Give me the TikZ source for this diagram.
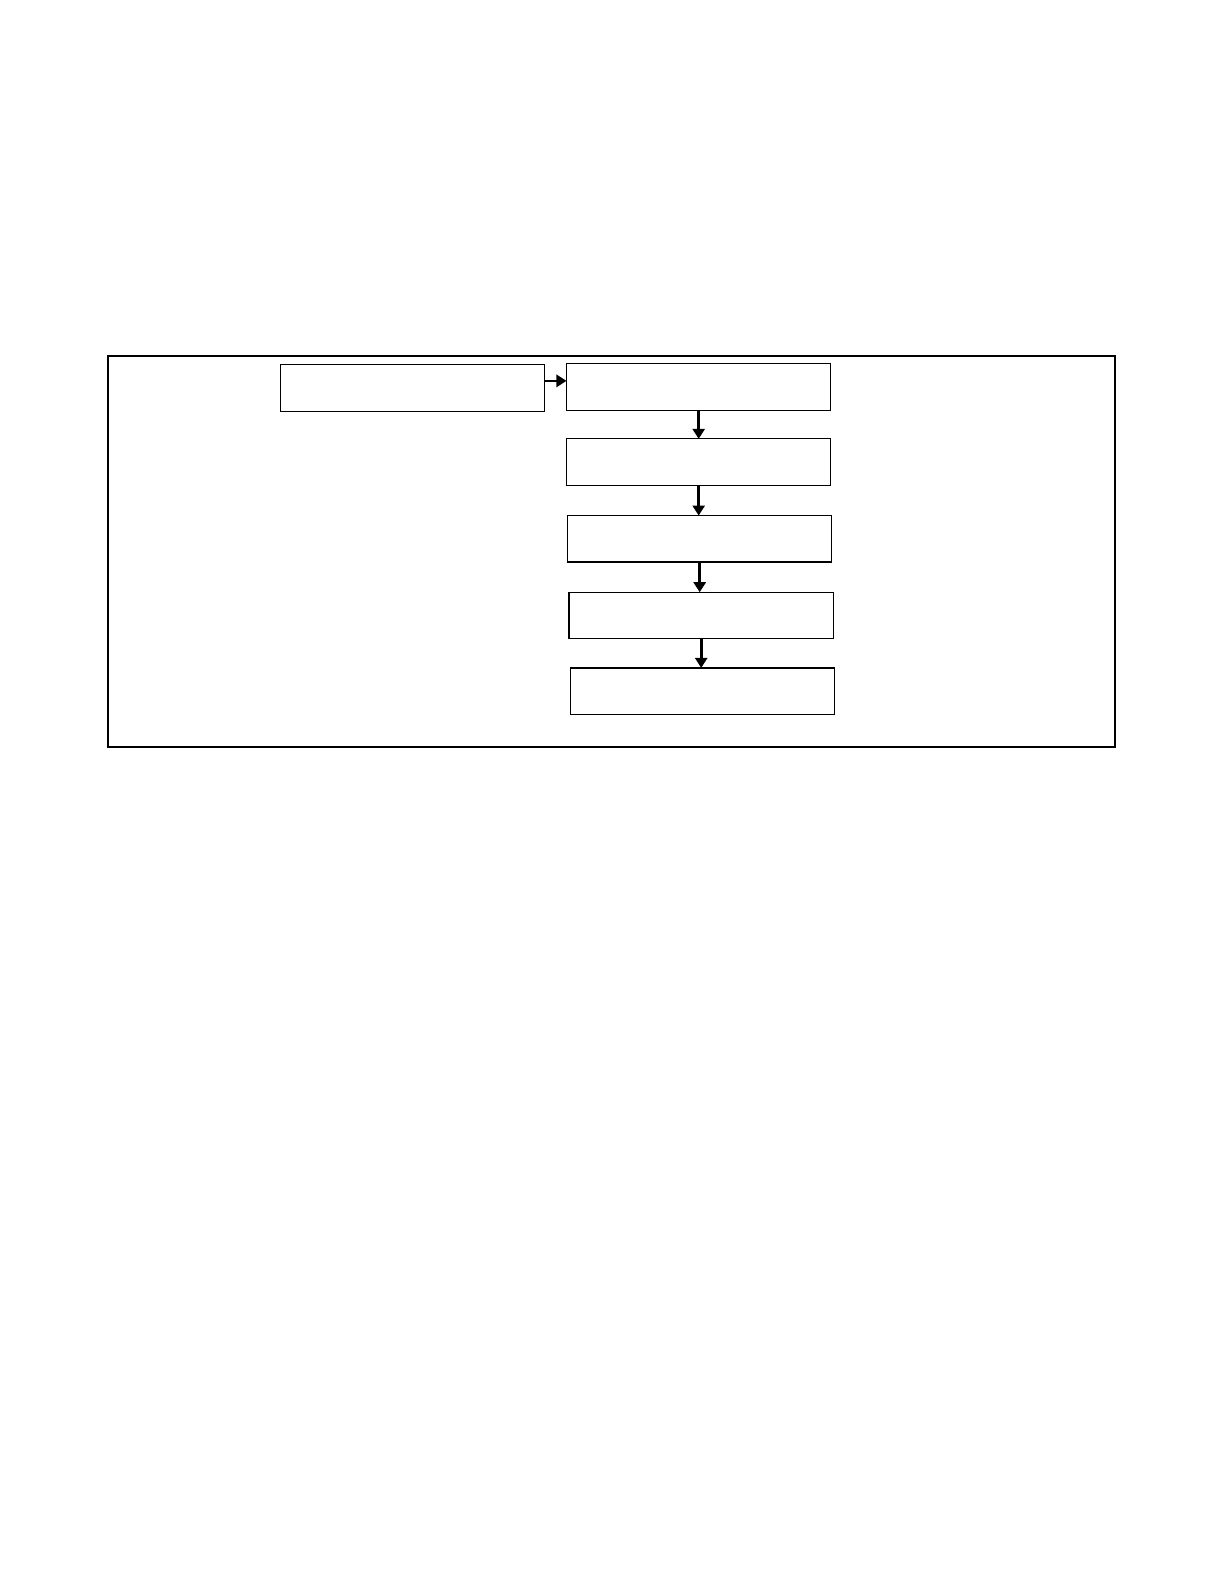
\documentclass[tikz,border=0pt]{standalone}
\usepackage{tikz}
\usetikzlibrary{arrows.meta}

\begin{document}
\begin{tikzpicture}[x=0.5bp,y=-0.5bp,
	stage/.style={shape=rectangle,draw=black,line width=0.6pt,minimum width=131bp,minimum height=23bp,inner sep=0pt,outer sep=0pt},
	flow/.style={line width=1.3pt,-{Triangle[length=5pt,width=6pt]}}]
	\useasboundingbox (0,0) rectangle (1213,1570);
	\draw[line width=1.1pt] (107,353) rectangle (1105,740);

	\node[stage] (a) at (409, 384.5)   {};
	\node[stage] (b) at (692.5, 383.5) {};
	\node[stage] (c) at (692.5, 458)   {};
	\node[stage] (d) at (693.5, 534)   {};
	\node[stage] (e) at (695, 610)     {};
	\node[stage] (f) at (696.5, 685)   {};

	\path[flow] ([yshift=3.5bp]a.east) edge ([yshift=3.5bp]a.east -| b.west);
	\path[flow] (b.south) edge (b.south |- c.north);
	\path[flow] (c.south) edge (c.south |- d.north);
	\path[flow] (d.south) edge (d.south |- e.north);
	\path[flow] (e.south) edge (e.south |- f.north);

\end{tikzpicture}
\end{document}
